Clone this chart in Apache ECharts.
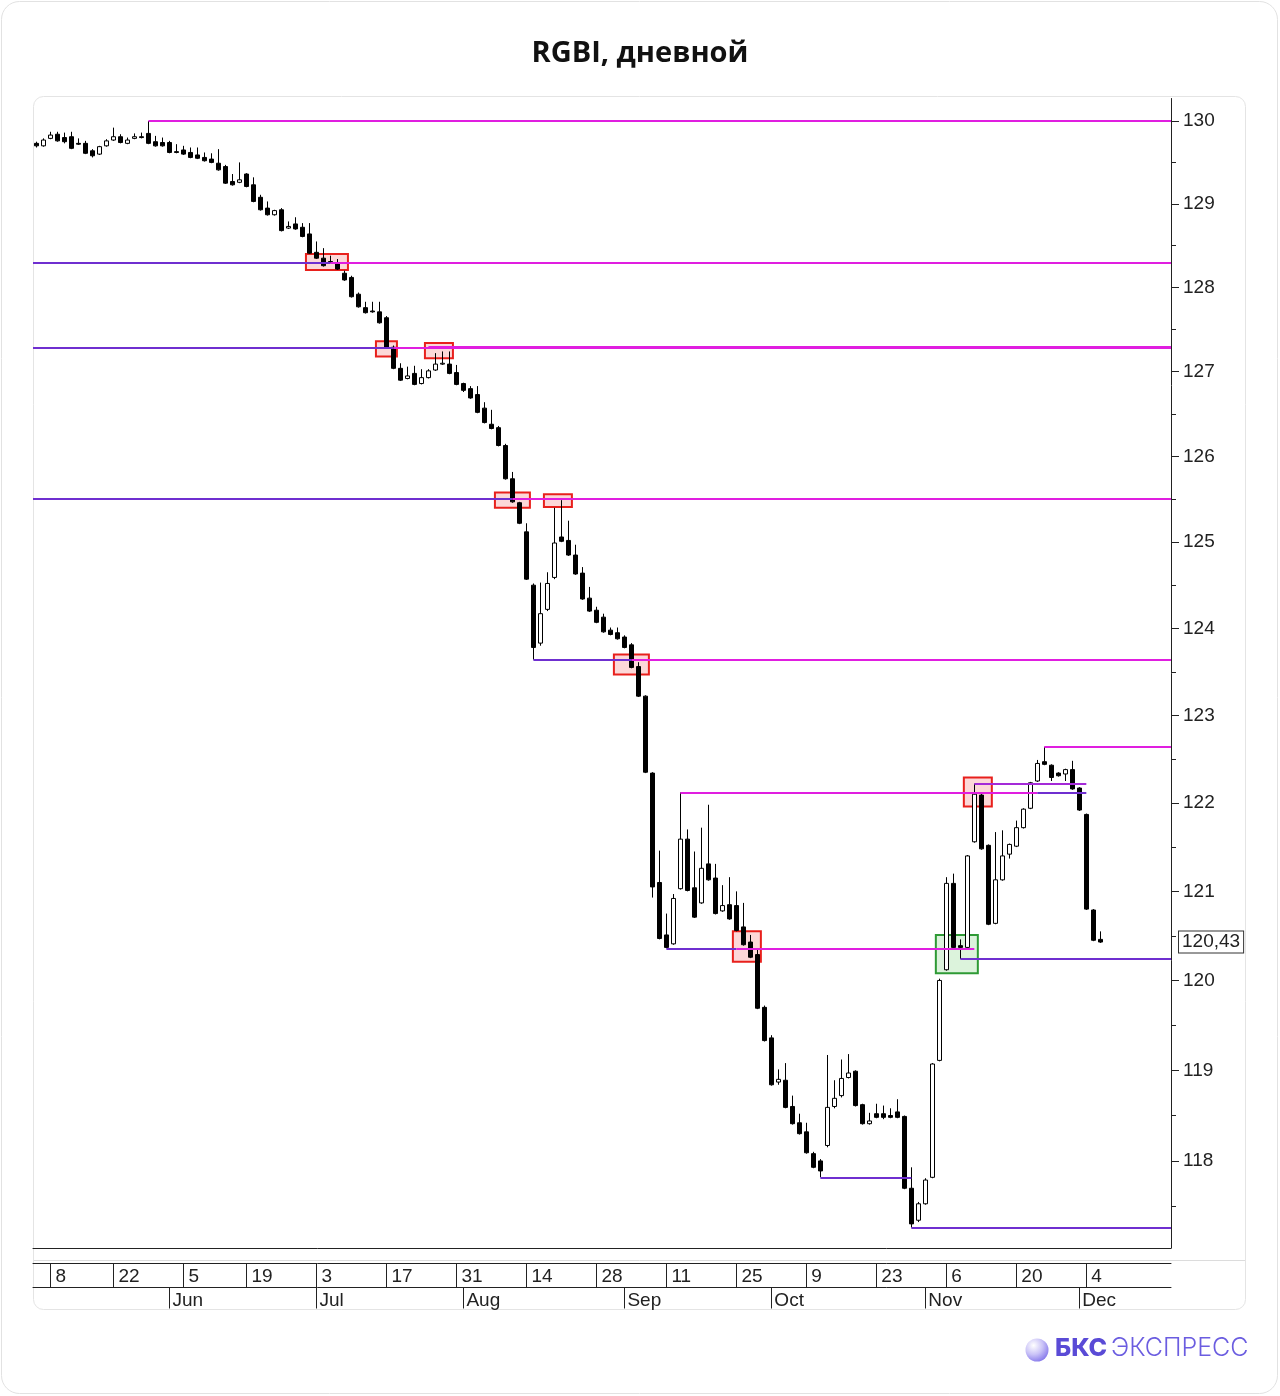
<!DOCTYPE html>
<html><head><meta charset="utf-8">
<script src="https://cdn.jsdelivr.net/npm/echarts@6/dist/echarts.min.js"></script>
<style>html,body{margin:0;padding:0;background:#fff}#c{width:1280px;height:1396px}</style>
</head><body><div id="c"></div>
<script>
// ---- data ----
const openP = [129.73,129.70,129.79,129.84,129.80,129.81,129.73,129.73,129.64,129.60,129.70,129.77,129.81,129.73,129.79,129.81,129.85,129.75,129.74,129.74,
129.63,129.65,129.62,129.59,129.56,129.54,129.49,129.45,129.27,129.26,129.36,129.23,129.08,128.95,128.87,128.93,128.71,128.76,128.72,128.64,
128.42,128.35,128.31,128.29,128.17,128.12,127.92,127.76,127.72,127.71,127.64,127.29,127.04,126.92,126.98,126.86,126.93,127.02,127.09,127.09,
126.99,126.86,126.80,126.73,126.57,126.38,126.34,126.13,125.74,125.46,125.12,124.50,123.83,124.22,124.59,125.06,125.02,124.85,124.64,124.35,
124.21,124.13,123.98,123.95,123.90,123.81,123.56,123.22,122.34,121.10,120.51,120.41,121.03,121.59,121.04,120.87,121.31,121.15,120.78,120.85,
120.84,120.60,120.43,120.29,119.70,119.36,118.87,118.89,118.60,118.42,118.32,118.08,118.00,118.17,118.60,118.72,118.92,118.99,118.62,118.41,
118.52,118.52,118.50,118.54,118.49,117.70,117.35,117.53,117.82,119.11,120.12,121.09,120.39,120.37,121.56,122.09,121.52,120.64,121.13,121.42,
121.51,121.72,121.94,122.25,122.47,122.43,122.34,122.33,122.38,122.17,121.87,120.79,120.46];
const closeP = [129.70,129.77,129.83,129.76,129.75,129.67,129.72,129.61,129.58,129.69,129.76,129.81,129.74,129.77,129.81,129.80,129.73,129.70,129.70,129.62,
129.62,129.60,129.56,129.55,129.52,129.50,129.41,129.25,129.23,129.29,129.21,129.03,128.93,128.87,128.92,128.68,128.73,128.70,128.61,128.41,
128.35,128.26,128.30,128.22,128.09,127.89,127.77,127.70,127.71,127.58,127.29,127.04,126.90,126.95,126.85,126.93,127.01,127.09,127.10,126.98,
126.85,126.78,126.69,126.52,126.40,126.33,126.13,125.74,125.47,125.22,124.57,123.78,124.17,124.52,124.99,125.01,124.85,124.63,124.34,124.20,
124.07,123.96,123.93,123.88,123.78,123.55,123.22,122.35,121.05,120.47,120.37,120.92,121.59,121.01,120.71,121.26,121.13,120.75,120.84,120.69,
120.56,120.40,120.26,119.69,119.33,118.84,118.90,118.59,118.41,118.30,118.09,117.93,117.89,118.59,118.69,118.91,118.97,118.61,118.41,118.44,
118.48,118.48,118.48,118.48,117.70,117.31,117.53,117.79,119.07,120.00,121.09,120.37,120.37,121.40,122.10,121.48,120.63,121.13,121.40,121.53,
121.72,121.93,122.23,122.45,122.44,122.29,122.31,122.38,122.16,121.92,120.80,120.45,120.43];
const lowP = [129.68,129.69,129.78,129.75,129.73,129.66,129.71,129.60,129.56,129.59,129.69,129.76,129.73,129.72,129.78,129.79,129.72,129.69,129.69,129.61,
129.61,129.59,129.55,129.54,129.51,129.49,129.40,129.24,129.22,129.25,129.20,129.02,128.92,128.86,128.86,128.67,128.70,128.69,128.60,128.40,
128.34,128.25,128.29,128.21,128.08,127.88,127.76,127.69,127.70,127.57,127.28,127.03,126.89,126.91,126.84,126.85,126.92,127.01,127.08,126.97,
126.84,126.76,126.68,126.51,126.39,126.32,126.12,125.73,125.46,125.21,124.56,123.64,123.80,124.20,124.57,125.00,124.84,124.62,124.33,124.19,
124.06,123.95,123.92,123.87,123.77,123.54,123.21,122.34,120.93,120.46,120.36,120.40,121.02,121.00,120.70,120.86,121.12,120.74,120.77,120.68,
120.55,120.39,120.25,119.68,119.32,118.83,118.84,118.58,118.40,118.29,118.08,117.92,117.82,118.15,118.58,118.70,118.91,118.60,118.40,118.40,
118.47,118.46,118.47,118.47,117.69,117.27,117.33,117.52,117.81,119.10,120.11,120.36,120.24,120.36,121.55,121.47,120.62,120.63,121.12,121.37,
121.50,121.71,121.93,122.24,122.43,122.25,122.30,122.25,122.15,121.91,120.79,120.44,120.42];
const highP = [129.75,129.79,129.87,129.87,129.86,129.87,129.79,129.76,129.66,129.70,129.78,129.92,129.84,129.80,129.85,129.86,130.00,129.82,129.80,129.76,
129.72,129.70,129.68,129.68,129.62,129.61,129.66,129.47,129.36,129.50,129.37,129.32,129.11,129.03,128.93,128.95,128.79,128.84,128.77,128.77,
128.55,128.47,128.38,128.34,128.20,128.14,127.94,127.83,127.83,127.83,127.66,127.31,127.10,127.06,127.07,127.03,127.03,127.22,127.24,127.24,
127.08,126.87,126.83,126.83,126.64,126.55,126.36,126.15,125.82,125.47,125.22,124.52,124.53,124.65,125.40,125.49,125.25,124.97,124.71,124.48,
124.25,124.17,124.01,124.01,123.92,123.83,123.61,123.23,122.35,121.46,120.75,120.97,122.12,121.70,121.45,121.72,121.98,121.31,121.07,121.16,
121.00,120.87,120.51,120.36,119.72,119.39,119.01,119.08,118.72,118.52,118.42,118.10,118.02,119.17,118.89,119.12,119.18,119.00,118.63,118.53,
118.63,118.61,118.58,118.68,118.50,117.93,117.55,117.81,119.08,120.02,121.16,121.20,120.46,121.41,122.22,122.12,121.53,121.67,121.69,121.54,
121.80,121.94,122.24,122.49,122.64,122.44,122.35,122.39,122.48,122.18,121.88,120.80,120.55];
const firstDate = '2023-05-04';
const exchangeHolidays = ['2023-05-09', '2023-06-12'];
const dayTickDates = ['2023-05-08','2023-05-22','2023-06-05','2023-06-19','2023-07-03','2023-07-17','2023-07-31','2023-08-14',
  '2023-08-28','2023-09-11','2023-09-25','2023-10-09','2023-10-23','2023-11-06','2023-11-20','2023-12-04'];
const dayTickLabels = ['8','22','5','19','3','17','31','14','28','11','25','9','23','6','20','4'];
const monthStartDates = ['2023-06-01','2023-07-03','2023-08-01','2023-09-01','2023-10-02','2023-11-01','2023-12-01'];
const monthLabels = ['Jun','Jul','Aug','Sep','Oct','Nov','Dec'];
const priceTicks = [118,119,120,121,122,123,124,125,126,127,128,129,130];
const priceHalfTicks = [117.5,118.5,119.5,120.5,121.5,122.5,123.5,124.5,125.5,126.5,127.5,128.5,129.5];
const lastPrice = 120.43;
const lastPriceText = '120,43';
// support / resistance levels: [from, to, price, tone]
const levels = [
  ['2023-05-29','right',130.00,'m'],
  ['left','2023-07-05',128.30,'p'], ['2023-07-05','right',128.30,'m'],
  ['left','2023-07-18',127.28,'p'], ['2023-07-18','right',127.28,'m'], ['2023-07-25','right',127.30,'m'],
  ['left','2023-08-10',125.51,'p'], ['2023-08-10','right',125.51,'m'],
  ['2023-08-15','2023-09-04',123.64,'p'], ['2023-09-04','right',123.64,'m'],
  ['2023-11-24','right',122.64,'m'],
  ['2023-09-13','2023-11-23',122.12,'m'], ['2023-11-23','2023-12-04',122.12,'p'],
  ['2023-11-10','2023-12-04',122.22,'v'],
  ['2023-09-11','2023-09-25',120.36,'p'], ['2023-09-25','2023-11-10',120.36,'m'],
  ['2023-11-08','right',120.24,'p'],
  ['2023-10-11','2023-10-30',117.82,'p'],
  ['2023-10-30','right',117.27,'p']
];
// highlighted boxes: [firstDate, lastDate, low, high, kind]
const boxes = [
  ['2023-06-30','2023-07-07',128.21,128.40,'r'],
  ['2023-07-14','2023-07-18',127.18,127.36,'r'],
  ['2023-07-25','2023-07-28',127.16,127.34,'r'],
  ['2023-08-08','2023-08-14',125.40,125.58,'r'],
  ['2023-08-17','2023-08-22',125.41,125.56,'r'],
  ['2023-08-31','2023-09-06',123.47,123.70,'r'],
  ['2023-09-25','2023-09-28',120.21,120.55,'r'],
  ['2023-11-09','2023-11-14',121.96,122.29,'r'],
  ['2023-11-03','2023-11-10',120.08,120.51,'g']
];

// ---- trading calendar ----
function tradingDays(start, count, skip) {
  const out = [];
  let t = Date.parse(start + 'T00:00:00Z');
  while (out.length < count) {
    const d = new Date(t);
    const iso = d.toISOString().slice(0, 10);
    const dow = d.getUTCDay();
    if (dow !== 0 && dow !== 6 && skip.indexOf(iso) < 0) out.push(iso);
    t += 86400000;
  }
  return out;
}
const dates = tradingDays(firstDate, openP.length, exchangeHolidays);
const idx = d => dates.indexOf(d);
const X_MIN = -0.5, X_MAX = 162.1;
const Y_MIN = 117.047, Y_MAX = 130.273;
const TONE = { m: '#e01ee0', p: '#6f2fd0', v: '#a42ad8' };

const candleData = dates.map((d, i) => [i, openP[i], closeP[i], lowP[i], highP[i]]);

const lineData = levels.map(l => {
  const x1 = l[0] === 'left' ? X_MIN : idx(l[0]);
  const x2 = l[1] === 'right' ? X_MAX : idx(l[1]);
  return [
    { coord: [x1, l[2]], lineStyle: { color: TONE[l[3]], width: 2, type: 'solid' } },
    { coord: [x2, l[2]] }
  ];
});
lineData.push([
  { coord: [X_MIN, lastPrice], lineStyle: { color: 'rgba(0,0,0,0)', width: 1 },
    label: { show: true, position: 'end', formatter: lastPriceText, distance: 8,
      color: '#222', fontSize: 19, fontFamily: 'Liberation Sans, Arial, sans-serif',
      backgroundColor: '#fff', borderColor: '#333', borderWidth: 1, padding: [2, 3, 0, 3] } },
  { coord: [X_MAX, lastPrice] }
]);

const areaData = boxes.map(b => {
  const red = b[4] === 'r';
  return [
    { coord: [idx(b[0]) - 0.5, b[3]],
      itemStyle: { color: red ? 'rgba(240,40,40,0.18)' : 'rgba(60,190,60,0.18)',
        borderColor: red ? '#e8201c' : '#2e9a35', borderWidth: 2 } },
    { coord: [idx(b[1]) + 0.5, b[2]] }
  ];
});

const dayTickIdx = dayTickDates.map(idx);
const monthTickIdx = monthStartDates.map(idx);
const dayLabelMap = {}; dayTickIdx.forEach((v, k) => dayLabelMap[v] = dayTickLabels[k]);
const monthLabelMap = {}; monthTickIdx.forEach((v, k) => monthLabelMap[v] = monthLabels[k]);

const FONT = 'Liberation Sans, Arial, sans-serif';
const chart = echarts.init(document.getElementById('c'), null, { renderer: 'canvas' });
chart.setOption({
  animation: false,
  backgroundColor: '#ffffff',
  title: {
    text: 'RGBI, дневной', left: 'center', top: 34,
    textStyle: { fontFamily: 'Open Sans, Noto Sans, sans-serif', fontWeight: 700, fontSize: 29, color: '#111' }
  },
  grid: { left: 33, right: 109, top: 98.5, bottom: 148, containLabel: false },
  xAxis: [
    { type: 'value', min: X_MIN, max: X_MAX, position: 'bottom',
      axisLine: { show: true, onZero: false, lineStyle: { color: '#222', width: 1 } },
      axisTick: { show: false }, axisLabel: { show: false }, splitLine: { show: false } },
    { type: 'value', min: X_MIN, max: X_MAX, position: 'bottom', offset: 15.5,
      axisLine: { show: true, onZero: false, lineStyle: { color: '#222', width: 1 } },
      axisTick: { show: true, customValues: dayTickIdx, length: 24, lineStyle: { color: '#222' } },
      axisLabel: { show: true, customValues: dayTickIdx, formatter: v => dayLabelMap[Math.round(v)] || '',
        align: 'left', padding: [0, 0, 0, 5], margin: 4, fontSize: 19, color: '#222', fontFamily: FONT, hideOverlap: false },
      splitLine: { show: false } },
    { type: 'value', min: X_MIN, max: X_MAX, position: 'bottom', offset: 39.5,
      axisLine: { show: true, onZero: false, lineStyle: { color: '#222', width: 1 } },
      axisTick: { show: true, customValues: monthTickIdx, length: 21, lineStyle: { color: '#222' } },
      axisLabel: { show: true, customValues: monthTickIdx, formatter: v => monthLabelMap[Math.round(v)] || '',
        align: 'left', padding: [0, 0, 0, 3], margin: 4, fontSize: 19, color: '#222', fontFamily: FONT, hideOverlap: false },
      splitLine: { show: false } }
  ],
  yAxis: [
    { type: 'log', logBase: 10, min: Y_MIN, max: Y_MAX, position: 'right',
      axisLine: { show: true, onZero: false, lineStyle: { color: '#222', width: 1 } },
      axisTick: { show: true, customValues: priceTicks, length: 8, lineStyle: { color: '#222' } },
      axisLabel: { show: true, customValues: priceTicks, margin: 12, fontSize: 19, color: '#222', fontFamily: FONT,
        formatter: v => String(Math.round(v)) },
      splitLine: { show: false } },
    { type: 'log', logBase: 10, min: Y_MIN, max: Y_MAX, position: 'right',
      axisLine: { show: false, onZero: false },
      axisTick: { show: true, customValues: priceHalfTicks, length: 5, lineStyle: { color: '#222' } },
      axisLabel: { show: false }, splitLine: { show: false } }
  ],
  series: [{
    type: 'candlestick', xAxisIndex: 0, yAxisIndex: 0,
    data: candleData, barWidth: 5,
    itemStyle: { color: '#ffffff', color0: '#000000', borderColor: '#000000', borderColor0: '#000000', borderWidth: 1 },
    markArea: { silent: true, data: areaData },
    markLine: { silent: true, symbol: ['none', 'none'], label: { show: false }, data: lineData }
  }],
  graphic: [
    { type: 'rect', shape: { x: 1.5, y: 1.5, width: 1276, height: 1392, r: 18 },
      style: { fill: 'none', stroke: '#e2e2e2', lineWidth: 1 }, z: -10, silent: true },
    { type: 'rect', shape: { x: 33.5, y: 96.5, width: 1212, height: 1213, r: 10 },
      style: { fill: 'none', stroke: '#e4e4e4', lineWidth: 1 }, z: -10, silent: true },
    { type: 'line', shape: { x1: 34, y1: 1260.5, x2: 1245, y2: 1260.5 },
      style: { stroke: '#dcdcdc', lineWidth: 1 }, z: -10, silent: true },
    { type: 'circle', shape: { cx: 1037, cy: 1350, r: 11.5 }, silent: true,
      style: { fill: new echarts.graphic.RadialGradient(0.35, 0.3, 0.9, [
        { offset: 0, color: '#ffffff' }, { offset: 0.45, color: '#c9c2f7' }, { offset: 1, color: '#6a5ae6' }]) } },
    { type: 'text', left: 1055, top: 1336, silent: true,
      style: { text: 'БКС', fontFamily: 'Inter, Noto Sans, sans-serif', fontWeight: 800, fontSize: 25, fill: '#5a4bd6' } },
    { type: 'text', left: 1111, top: 1336, silent: true,
      style: { text: 'ЭКСПРЕСС', fontFamily: 'Inter, Noto Sans, sans-serif', fontWeight: 300, fontSize: 25, fill: '#6b5de0' } }
  ]
});
</script></body></html>
